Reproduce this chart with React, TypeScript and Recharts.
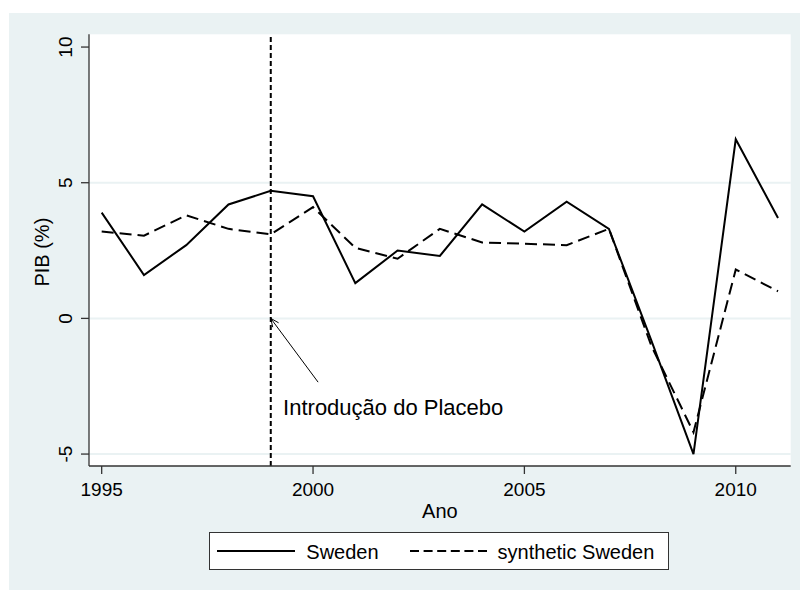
import React from 'react';
import { LineChart, Line, XAxis, YAxis, CartesianGrid, ReferenceLine, Legend, Label } from 'recharts';

const years = [1995, 1996, 1997, 1998, 1999, 2000, 2001, 2002, 2003, 2004, 2005, 2006, 2007, 2008, 2009, 2010, 2011];
const sweden = [3.9, 1.6, 2.7, 4.2, 4.7, 4.5, 1.3, 2.5, 2.3, 4.2, 3.2, 4.3, 3.3, -0.8, -5.0, 6.6, 3.7];
const syntheticSweden = [3.2, 3.05, 3.8, 3.3, 3.1, 4.1, 2.6, 2.2, 3.3, 2.8, 2.75, 2.7, 3.3, -1.0, -4.2, 1.8, 1.0];

const xTicks = [1995, 2000, 2005, 2010];
const yTicks = [-5, 0, 5, 10];
const gridValues = [-5, 0, 5];
const xDomain = [1994.7, 2011.3];
const yDomain = [-5.44, 10.47];

const placeboYear = 1999;
const annotationText = 'Introdução do Placebo';
const arrowTail = { x: 2000.12, y: -2.35 };
const arrowHead = { x: 1999, y: 0 };

const xLabel = 'Ano';
const yLabel = 'PIB (%)';

const data = years.map((year, i) => ({ year, sweden: sweden[i], synthetic: syntheticSweden[i] }));

const FONT = '"Liberation Sans", Arial, Helvetica, sans-serif';
const BG = '#EAF2F3';
const AXIS = '#333';

const YTick = (props: any) => {
  const { x, y, payload } = props;
  return (
    <text x={x} y={y} transform={`rotate(-90, ${x}, ${y})`} textAnchor="middle" fontSize={19} fontFamily={FONT} fill="#000">
      {payload.value}
    </text>
  );
};

const YLabelContent = (props: any) => {
  const vb = props.viewBox;
  const x = vb.x + 20;
  const y = vb.y + vb.height / 2 + 2;
  return (
    <text x={x} y={y} transform={`rotate(-90, ${x}, ${y})`} textAnchor="middle" fontSize={20} fontFamily={FONT} fill="#000">
      {yLabel}
    </text>
  );
};

const XLabelContent = (props: any) => {
  const vb = props.viewBox;
  const x = vb.x + vb.width / 2;
  const y = vb.y + vb.height - 4;
  return (
    <text x={x} y={y} textAnchor="middle" fontSize={20} fontFamily={FONT} fill="#000">
      {xLabel}
    </text>
  );
};

const ArrowShape = (p: any) => {
  const { x1, y1, x2, y2 } = p;
  const ang = Math.atan2(y1 - y2, x1 - x2);
  const L = 9;
  const spread = 0.42;
  const a1x = x2 + L * Math.cos(ang + spread);
  const a1y = y2 + L * Math.sin(ang + spread);
  const a2x = x2 + L * Math.cos(ang - spread);
  const a2y = y2 + L * Math.sin(ang - spread);
  return (
    <g>
      <line x1={x1} y1={y1} x2={x2} y2={y2} stroke="#000" strokeWidth={1} />
      <polyline points={`${a1x},${a1y} ${x2},${y2} ${a2x},${a2y}`} fill="none" stroke="#000" strokeWidth={1} />
      <text x={x1 - 35} y={y1 + 33} fontSize={22} fontFamily={FONT} fill="#000">
        {annotationText}
      </text>
    </g>
  );
};

const LegendContent = (props: any) => {
  const payload = props.payload || [];
  return (
    <div
      style={{
        boxSizing: 'border-box',
        width: 460,
        height: 38,
        border: '1px solid #333',
        background: '#fff',
        display: 'flex',
        alignItems: 'center',
        fontFamily: FONT,
        fontSize: 20,
        color: '#000',
        paddingLeft: 7,
        paddingTop: 3,
      }}
    >
      {payload.map((entry: any, i: number) => {
        const dashed = entry.payload && entry.payload.strokeDasharray;
        return (
          <div key={i} style={{ display: 'flex', alignItems: 'center', marginLeft: i === 0 ? 0 : 31 }}>
            <svg width={i === 0 ? 78 : 77} height={10} style={{ display: 'block', marginTop: -3 }}>
              <line x1={0} y1={5} x2={i === 0 ? 78 : 77} y2={5} stroke="#000" strokeWidth={2} strokeDasharray={dashed ? '9 4.6' : undefined} />
            </svg>
            <span style={{ marginLeft: 11, whiteSpace: 'nowrap' }}>{entry.value}</span>
          </div>
        );
      })}
    </div>
  );
};

export default function App() {
  return (
    <div style={{ position: 'absolute', left: 0, top: 0, width: 800, height: 590, background: '#fff', overflow: 'hidden' }}>
      <div style={{ position: 'absolute', left: 9, top: 13, width: 791, height: 577, background: BG }} />
      <div style={{ position: 'absolute', left: 0, top: 0 }}>
        <LineChart width={800} height={590} data={data} margin={{ top: 34.3, right: 9.3, bottom: 68, left: 29 }}>
          <CartesianGrid fill="#fff" fillOpacity={1} vertical={false} horizontalValues={gridValues} stroke={BG} strokeWidth={2} />
          <XAxis
            dataKey="year"
            type="number"
            domain={xDomain}
            allowDataOverflow
            ticks={xTicks}
            height={56}
            tickSize={8}
            tickMargin={9}
            axisLine={{ stroke: AXIS, strokeWidth: 1.3 }}
            tickLine={{ stroke: AXIS, strokeWidth: 1.3 }}
            tick={{ fontSize: 19, fontFamily: FONT, fill: '#000' }}
            interval={0}
          >
            <Label content={XLabelContent} />
          </XAxis>
          <YAxis
            type="number"
            domain={yDomain}
            allowDataOverflow
            ticks={yTicks}
            width={60}
            tickSize={8}
            tickMargin={9}
            axisLine={{ stroke: AXIS, strokeWidth: 1.3 }}
            tickLine={{ stroke: AXIS, strokeWidth: 1.3 }}
            tick={YTick}
            interval={0}
          >
            <Label content={YLabelContent} />
          </YAxis>
          <ReferenceLine x={placeboYear} stroke="#000" strokeWidth={2} strokeDasharray="5 3" />
          <Line type="linear" dataKey="sweden" name="Sweden" stroke="#000" strokeWidth={2} dot={false} isAnimationActive={false} />
          <Line type="linear" dataKey="synthetic" name="synthetic Sweden" stroke="#000" strokeWidth={2} strokeDasharray="12 6" dot={false} isAnimationActive={false} />
          <ReferenceLine segment={[arrowTail, arrowHead]} shape={ArrowShape} />
          <Legend
            layout="horizontal"
            verticalAlign="middle"
            align="center"
            content={LegendContent}
            wrapperStyle={{ left: 209.3, top: 531.7, width: 460, height: 38 }}
          />
        </LineChart>
      </div>
    </div>
  );
}
